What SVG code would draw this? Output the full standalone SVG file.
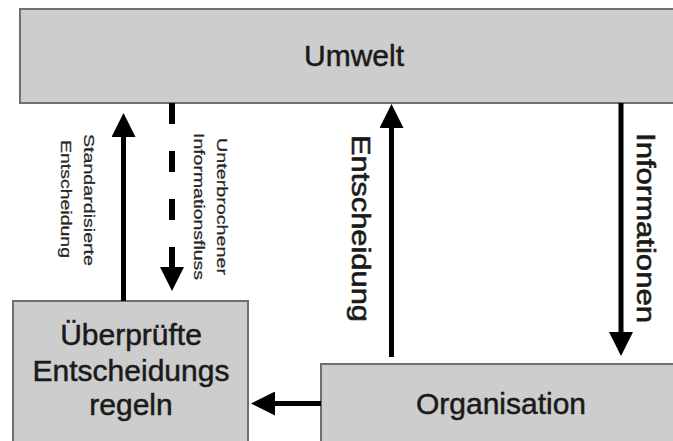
<svg xmlns="http://www.w3.org/2000/svg" width="673" height="441" viewBox="0 0 673 441">
  <style>
    .box { fill: #cdcdcd; stroke: #6f6f6f; stroke-width: 2; }
    .label { font-family: "Liberation Sans", Arial, sans-serif; fill: #1a1a1a; stroke: #1a1a1a; text-anchor: middle; }
    .big { font-size: 30px; stroke-width: 0.5; }
    .side { font-size: 25px; stroke-width: 0.6; }
    .small { font-size: 15px; stroke-width: 0.25; fill: #262626; stroke: #262626; }
    .flow { stroke: #000; stroke-width: 5; fill: none; marker-end: url(#head); }
    .dashed { stroke-width: 6; stroke-dasharray: 21 27; }
  </style>
  <defs>
    <marker id="head" viewBox="0 -12 24 24" refX="0" refY="0" markerWidth="24" markerHeight="24" markerUnits="userSpaceOnUse" orient="auto">
      <path d="M0,-12 L24,0 L0,12 Z" fill="#000"/>
    </marker>
  </defs>

  <rect width="673" height="441" fill="#ffffff"/>

  <!-- Environment -->
  <g id="umwelt">
    <rect class="box" x="20" y="9" width="670" height="94"/>
    <text class="label big" x="354" y="66">Umwelt</text>
  </g>

  <!-- Reviewed decision rules -->
  <g id="regeln">
    <rect class="box" x="13" y="301" width="235" height="160"/>
    <text class="label big" x="131" y="345">Überprüfte</text>
    <text class="label big" x="131" y="381">Entscheidungs</text>
    <text class="label big" x="131" y="415">regeln</text>
  </g>

  <!-- Organisation -->
  <g id="organisation">
    <rect class="box" x="321" y="364" width="370" height="100"/>
    <text class="label big" x="501" y="414">Organisation</text>
  </g>

  <!-- Connectors -->
  <g id="connectors">
    <line class="flow" x1="123.5" y1="301" x2="123.5" y2="137"/>
    <line class="flow dashed" x1="172" y1="103" x2="172" y2="267"/>
    <line class="flow" x1="391.5" y1="357" x2="391.5" y2="128"/>
    <line class="flow" x1="621" y1="103" x2="621" y2="332"/>
    <line class="flow" x1="321" y1="403.5" x2="275" y2="403.5"/>
  </g>

  <!-- Connector labels -->
  <g id="labels">
    <g transform="translate(84,200) rotate(90)">
      <text class="label small" x="0" y="0" textLength="132" lengthAdjust="spacingAndGlyphs">Standardisierte</text>
    </g>
    <g transform="translate(61,199) rotate(90)">
      <text class="label small" x="0" y="0" textLength="118" lengthAdjust="spacingAndGlyphs">Entscheidung</text>
    </g>
    <g transform="translate(217,206.5) rotate(90)">
      <text class="label small" x="0" y="0" textLength="137" lengthAdjust="spacingAndGlyphs">Unterbrochener</text>
    </g>
    <g transform="translate(194,206.5) rotate(90)">
      <text class="label small" x="0" y="0" textLength="147" lengthAdjust="spacingAndGlyphs">Informationsfluss</text>
    </g>
    <g transform="translate(352,228.5) rotate(90)">
      <text class="label side" x="0" y="0" textLength="187" lengthAdjust="spacingAndGlyphs">Entscheidung</text>
    </g>
    <g transform="translate(637,228) rotate(90)">
      <text class="label side" x="0" y="0" textLength="190" lengthAdjust="spacingAndGlyphs">Informationen</text>
    </g>
  </g>
</svg>
